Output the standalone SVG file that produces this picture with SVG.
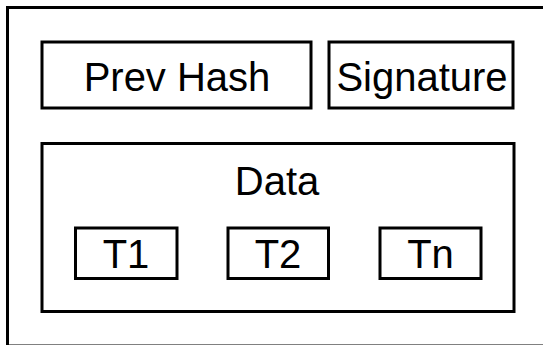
<svg xmlns="http://www.w3.org/2000/svg" width="543" height="345" viewBox="0 0 543 345">
<style>
rect { fill: #fff; stroke: #000; stroke-width: 3; }
text { font-family: "Liberation Sans", Arial, sans-serif; font-size: 40px; fill: #000; text-anchor: middle; }
</style>
<rect x="0" y="0" width="543" height="345" style="stroke:none"/>
<g id="block">
<rect x="7.5" y="7.5" width="545" height="338.5"/>
</g>
<g id="prevhash">
<rect x="42" y="42" width="269" height="66"/>
<text x="177" y="91">Prev Hash</text>
</g>
<g id="signature">
<rect x="329" y="42" width="184" height="66"/>
<text x="422" y="91">Signature</text>
</g>
<g id="data">
<rect x="42" y="143.5" width="472" height="168"/>
<text x="277" y="195">Data</text>
</g>
<g id="t1">
<rect x="75.5" y="228" width="101.5" height="50.5"/>
<text x="126" y="268">T1</text>
</g>
<g id="t2">
<rect x="228" y="228" width="100.5" height="50.5"/>
<text x="278" y="268">T2</text>
</g>
<g id="tn">
<rect x="380" y="228" width="101" height="50.5"/>
<text x="430.5" y="268">Tn</text>
</g>
<g id="connectors"></g>
</svg>
